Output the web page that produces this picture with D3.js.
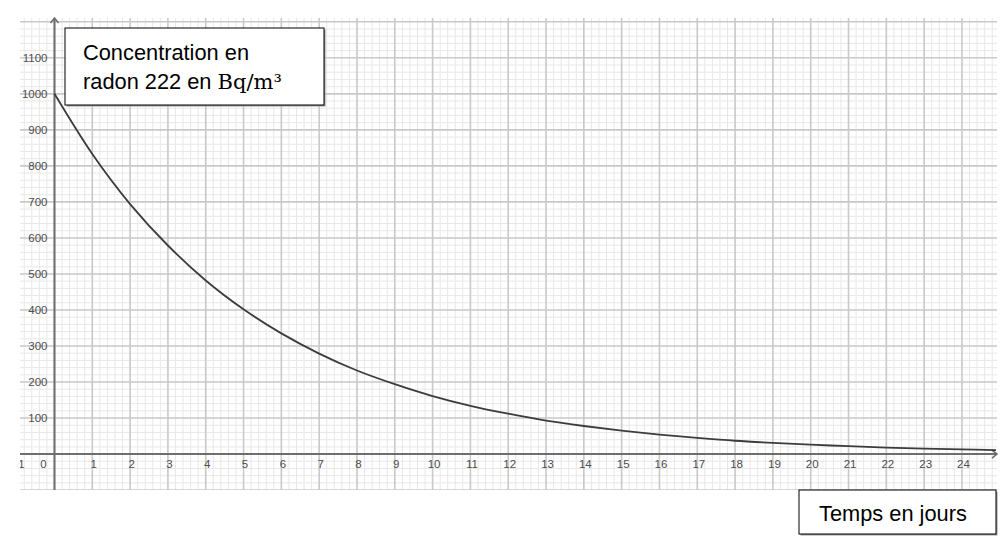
<!DOCTYPE html>
<html><head><meta charset="utf-8">
<script src="https://cdn.jsdelivr.net/npm/d3@7"></script>
<style>body{margin:0;background:#fff}svg{display:block}</style>
</head><body>
<script>
// Data
const days = [0,1,2,3,4,5,6,7,8,9,10,11,12,13,14,15,16,17,18,19,20,21,22,23,24,24.9];
const concentration = [1000,833,694,579,482,402,335,279,232,194,161,134,112,93,78,65,54,45,37,31,26,22,18,15,13,11];
const xTickValues = [-1,0,1,2,3,4,5,6,7,8,9,10,11,12,13,14,15,16,17,18,19,20,21,22,23,24];
const yTickValues = [100,200,300,400,500,600,700,800,900,1000,1100];
const yTitleLines = ["Concentration en", "radon 222 en "];
const yTitleUnit = "Bq/m³";
const xTitle = "Temps en jours";

const W = 1007, H = 547;
const L = 20, R = 997, T = 18, B = 490;
const x = d3.scaleLinear().domain([-0.912, 24.927]).range([L, R]);
const y = d3.scaleLinear().domain([-99.7, 1210.5]).range([B, T]);

const svg = d3.select("body").append("svg").attr("width", W).attr("height", H);
svg.append("rect").attr("width", W).attr("height", H).attr("fill", "#fff");

const defs = svg.append("defs");
defs.append("clipPath").attr("id", "plot").append("rect")
  .attr("x", L).attr("y", T).attr("width", R - L).attr("height", B - T);

const grid = svg.append("g").attr("clip-path", "url(#plot)");
// minor grid
const xMinor = d3.range(-5, 126).map(i => i / 5).filter(v => Math.abs(v - Math.round(v)) > 1e-6);
const yMinor = d3.range(-5, 61).map(i => i * 20).filter(v => v % 100 !== 0);
grid.selectAll(".xm").data(xMinor).join("line")
  .attr("x1", d => x(d)).attr("x2", d => x(d)).attr("y1", T).attr("y2", B)
  .attr("stroke", "#e8e8e8").attr("stroke-width", 1);
grid.selectAll(".ym").data(yMinor).join("line")
  .attr("x1", L).attr("x2", R).attr("y1", d => y(d)).attr("y2", d => y(d))
  .attr("stroke", "#e8e8e8").attr("stroke-width", 1);
// major grid
const xMajor = d3.range(-1, 26);
const yMajor = d3.range(-100, 1300, 100);
grid.selectAll(".xM").data(xMajor).join("line")
  .attr("x1", d => x(d)).attr("x2", d => x(d)).attr("y1", T).attr("y2", B)
  .attr("stroke", "#c9c9c9").attr("stroke-width", 1.6);
grid.selectAll(".yM").data(yMajor).join("line")
  .attr("x1", L).attr("x2", R).attr("y1", d => y(d)).attr("y2", d => y(d))
  .attr("stroke", "#c9c9c9").attr("stroke-width", 1.6);

// axes lines
const axisColor = "#6e6e6e";
svg.append("line").attr("x1", x(0)).attr("x2", x(0)).attr("y1", B).attr("y2", T + 1)
  .attr("stroke", axisColor).attr("stroke-width", 2);
svg.append("line").attr("x1", L).attr("x2", R - 1).attr("y1", y(0)).attr("y2", y(0))
  .attr("stroke", axisColor).attr("stroke-width", 2);
// arrows
svg.append("path").attr("d", `M${x(0)-4},${T+5} L${x(0)},${T} L${x(0)+4},${T+5}`)
  .attr("fill", "none").attr("stroke", axisColor).attr("stroke-width", 1.6);
svg.append("path").attr("d", `M${R-5},${y(0)-4} L${R},${y(0)} L${R-5},${y(0)+4}`)
  .attr("fill", "none").attr("stroke", axisColor).attr("stroke-width", 1.6);

// tick labels through d3 axes
const labelFont = "Liberation Sans, Arial, sans-serif";
const yAxis = svg.append("g").attr("transform", `translate(${x(0) - 7},0)`)
  .call(d3.axisLeft(y).tickValues(yTickValues).tickSize(0).tickPadding(0).tickFormat(d3.format("d")));
yAxis.select(".domain").remove();
yAxis.selectAll("text").attr("font-family", labelFont).attr("font-size", 11.5)
  .attr("fill", "#4d4d4d").attr("dy", "0.34em");

defs.append("clipPath").attr("id", "lab").append("rect")
  .attr("x", L).attr("y", 0).attr("width", W - L).attr("height", H);
const xAxis = svg.append("g").attr("clip-path", "url(#lab)")
  .append("g").attr("transform", `translate(0,${y(0) + 6})`)
  .call(d3.axisBottom(x).tickValues(xTickValues).tickSize(0).tickPadding(0).tickFormat(d => d < 0 ? "−" + Math.abs(d) : d));
xAxis.select(".domain").remove();
xAxis.selectAll(".tick").attr("transform", d => `translate(${d === 0 ? x(0) - 11 : x(d) + 1.5},0)`);
xAxis.selectAll("text").attr("font-family", labelFont).attr("font-size", 11.5)
  .attr("fill", "#4d4d4d").attr("dy", "0.71em");

// curve
const line = d3.line().x((d, i) => x(days[i])).y(d => y(d)).curve(d3.curveCatmullRom);
svg.append("path").datum(concentration).attr("d", line)
  .attr("fill", "none").attr("stroke", "#3c3c3c").attr("stroke-width", 1.8);

// title boxes
function box(bx, by, bw, bh) {
  svg.append("rect").attr("x", bx + 1.5).attr("y", by + 1.5).attr("width", bw).attr("height", bh).attr("fill", "#999");
  svg.append("rect").attr("x", bx).attr("y", by).attr("width", bw).attr("height", bh)
    .attr("fill", "#fff").attr("stroke", "#000").attr("stroke-width", 1);
}
box(65, 28, 259, 77);
const t1 = svg.append("text").attr("x", 83).attr("y", 60).attr("font-family", labelFont)
  .attr("font-size", 21.8).attr("fill", "#000").text(yTitleLines[0]);
const t2 = svg.append("text").attr("x", 83).attr("y", 89).attr("font-family", labelFont)
  .attr("font-size", 21.8).attr("fill", "#000");
t2.append("tspan").text(yTitleLines[1]);
t2.append("tspan").attr("font-family", "DejaVu Serif, serif").attr("font-size", 21).text(yTitleUnit);

box(799, 490, 197, 44);
svg.append("text").attr("x", 819).attr("y", 521).attr("font-family", labelFont)
  .attr("font-size", 21.8).attr("fill", "#000").text(xTitle);
</script>
</body></html>
